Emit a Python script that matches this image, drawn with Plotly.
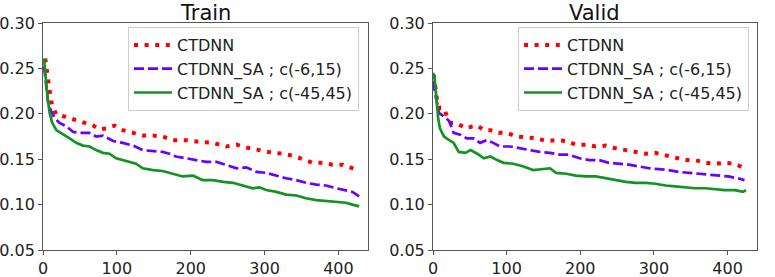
import plotly.graph_objects as go

# ---- Train data ----
train_ctdnn_x = [3, 4.5, 8, 11, 13.5, 18, 25, 36, 50, 59, 68, 77, 86, 97, 108, 122, 135, 149, 162, 176, 194, 212, 230, 248, 262, 275, 293, 311, 325, 338, 352, 365, 379, 392, 406, 419, 426]
train_ctdnn_y = [0.261, 0.252, 0.226, 0.214, 0.208, 0.199, 0.198, 0.195, 0.192, 0.189, 0.187, 0.183, 0.184, 0.187, 0.182, 0.179, 0.176, 0.176, 0.175, 0.171, 0.171, 0.169, 0.168, 0.164, 0.166, 0.163, 0.160, 0.157, 0.156, 0.154, 0.150, 0.146, 0.146, 0.144, 0.144, 0.140, 0.138]

train_sa6_x = [0, 2, 4.5, 7, 11, 16, 22.5, 32, 41, 50, 63, 72, 81, 95, 108, 122, 135, 149, 162, 171, 180, 194, 207, 221, 235, 248, 262, 275, 289, 302, 316, 329, 343, 356, 370, 383, 397, 410, 419, 428]
train_sa6_y = [0.252, 0.248, 0.230, 0.212, 0.203, 0.195, 0.190, 0.186, 0.180, 0.179, 0.179, 0.175, 0.176, 0.170, 0.168, 0.165, 0.160, 0.159, 0.158, 0.156, 0.153, 0.151, 0.149, 0.147, 0.147, 0.144, 0.140, 0.141, 0.136, 0.135, 0.132, 0.129, 0.127, 0.124, 0.122, 0.121, 0.118, 0.116, 0.114, 0.109]

train_sa45_x = [1.4, 3.6, 6, 9, 12.6, 18, 27, 36, 45, 54, 63, 72, 81, 90, 99, 108, 117, 126, 135, 149, 162, 176, 189, 203, 216, 230, 244, 257, 271, 284, 293, 302, 316, 329, 343, 356, 370, 383, 397, 410, 419, 428]
train_sa45_y = [0.261, 0.241, 0.219, 0.201, 0.190, 0.182, 0.177, 0.173, 0.168, 0.165, 0.164, 0.160, 0.157, 0.156, 0.151, 0.149, 0.147, 0.145, 0.140, 0.138, 0.137, 0.134, 0.131, 0.132, 0.127, 0.127, 0.125, 0.124, 0.121, 0.118, 0.119, 0.116, 0.114, 0.111, 0.110, 0.107, 0.105, 0.104, 0.103, 0.102, 0.100, 0.098]

# ---- Valid data ----
valid_ctdnn_x = [1, 3.6, 6, 9, 15, 19, 24, 30, 40, 46, 53, 60, 69, 78, 89, 100, 114, 127, 141, 154, 167, 181, 194, 208, 221, 235, 248, 262, 275, 289, 302, 316, 329, 343, 356, 370, 383, 396, 410, 419, 423]
valid_ctdnn_y = [0.243, 0.230, 0.212, 0.206, 0.206, 0.197, 0.190, 0.190, 0.186, 0.184, 0.186, 0.187, 0.182, 0.182, 0.179, 0.179, 0.175, 0.174, 0.173, 0.170, 0.171, 0.170, 0.166, 0.166, 0.164, 0.165, 0.162, 0.160, 0.158, 0.156, 0.157, 0.154, 0.151, 0.149, 0.149, 0.146, 0.145, 0.146, 0.145, 0.142, 0.140]

valid_sa6_x = [0, 3.6, 8, 15, 22, 28, 37, 46, 55, 64, 73, 82, 91, 105, 118, 132, 145, 159, 172, 185, 199, 212, 226, 239, 253, 266, 280, 293, 307, 320, 334, 347, 361, 374, 388, 401, 414, 423]
valid_sa6_y = [0.236, 0.219, 0.201, 0.197, 0.192, 0.179, 0.177, 0.173, 0.173, 0.168, 0.171, 0.168, 0.164, 0.164, 0.162, 0.160, 0.158, 0.157, 0.155, 0.155, 0.151, 0.149, 0.149, 0.146, 0.145, 0.144, 0.142, 0.140, 0.139, 0.138, 0.136, 0.135, 0.134, 0.133, 0.132, 0.131, 0.129, 0.127]

valid_sa45_x = [0, 2, 4.5, 7, 9.4, 15, 22, 28, 35, 44, 51, 60, 69, 78, 87, 96, 109, 123, 136, 150, 159, 167, 181, 194, 208, 221, 235, 248, 262, 275, 289, 302, 316, 329, 343, 356, 370, 383, 396, 410, 421, 425]
valid_sa45_y = [0.245, 0.241, 0.219, 0.195, 0.184, 0.175, 0.171, 0.168, 0.158, 0.157, 0.160, 0.156, 0.151, 0.153, 0.149, 0.146, 0.145, 0.142, 0.138, 0.139, 0.140, 0.135, 0.134, 0.132, 0.131, 0.131, 0.129, 0.127, 0.125, 0.124, 0.124, 0.123, 0.121, 0.120, 0.119, 0.118, 0.118, 0.117, 0.116, 0.116, 0.114, 0.116]

labels = ["CTDNN", "CTDNN_SA ; c(-6,15)", "CTDNN_SA ; c(-45,45)"]
titles = ["Train", "Valid"]
x_ticks = [0, 100, 200, 300, 400]
y_ticks = [0.05, 0.10, 0.15, 0.20, 0.25, 0.30]

RED = "#ff0000"
PURPLE = "#6a00ff"
GREEN = "#129322"
FONT = "DejaVu Sans"

styles = [
    dict(color=RED, width=4, dash="4px,6.6px"),
    dict(color=PURPLE, width=2.7, dash="10px,4px"),
    dict(color=GREEN, width=2.7, dash="solid"),
]

fig = go.Figure()

panels = [
    ("x", "y", "legend", [(train_ctdnn_x, train_ctdnn_y), (train_sa6_x, train_sa6_y), (train_sa45_x, train_sa45_y)]),
    ("x2", "y2", "legend2", [(valid_ctdnn_x, valid_ctdnn_y), (valid_sa6_x, valid_sa6_y), (valid_sa45_x, valid_sa45_y)]),
]

for xa, ya, lg, series in panels:
    for (xs, ys), lab, st in zip(series, labels, styles):
        fig.add_trace(go.Scatter(
            x=xs, y=ys, mode="lines", name=lab, xaxis=xa, yaxis=ya,
            legend=lg, line=st, showlegend=True,
        ))

W, H = 775, 277
ML, MR, MT, MB = 43, 18, 23, 27
PW = W - ML - MR
PH = H - MT - MB
dom_x1 = [0, (368 - ML) / PW]
dom_x2 = [(433 - ML) / PW, 1]


def px_x(px):
    return (px - ML) / PW


def px_y(py):
    return (H - MB - py) / PH


axis_common = dict(
    showline=True, mirror=True, linecolor="#555555", linewidth=1,
    ticks="outside", ticklen=4, tickcolor="#555555", showgrid=False, zeroline=False,
    automargin=False,
    tickfont=dict(family=FONT, size=16, color="#222222"),
)

legend_common = dict(
    xanchor="left", yanchor="top",
    bgcolor="white", bordercolor="#cccccc", borderwidth=1,
    font=dict(family=FONT, size=16, color="#222222"), itemwidth=38,
    tracegroupgap=0, xref="paper", yref="paper",
)

fig.update_layout(
    width=W, height=H,
    margin=dict(l=ML, r=MR, t=MT, b=MB, autoexpand=False),
    paper_bgcolor="white", plot_bgcolor="white",
    font=dict(family=FONT, size=16, color="#222222"),
    xaxis=dict(domain=dom_x1, range=[0, 440], tickvals=x_ticks, anchor="y", **axis_common),
    yaxis=dict(domain=[0, 1], range=[0.05, 0.30], tickvals=y_ticks, tickformat=".2f", anchor="x", **axis_common),
    xaxis2=dict(domain=dom_x2, range=[0, 440], tickvals=x_ticks, anchor="y2", **axis_common),
    yaxis2=dict(domain=[0, 1], range=[0.05, 0.30], tickvals=y_ticks, tickformat=".2f", anchor="x2", **axis_common),
    legend=dict(x=px_x(128), y=px_y(27), **legend_common),
    legend2=dict(x=px_x(518), y=px_y(27), **legend_common),
    annotations=[
        dict(text=titles[0], x=(dom_x1[0] + dom_x1[1]) / 2, y=px_y(13), xref="paper", yref="paper",
             showarrow=False, font=dict(family=FONT, size=21, color="#111111"), xanchor="center", yanchor="middle"),
        dict(text=titles[1], x=(dom_x2[0] + dom_x2[1]) / 2, y=px_y(13), xref="paper", yref="paper",
             showarrow=False, font=dict(family=FONT, size=21, color="#111111"), xanchor="center", yanchor="middle"),
    ],
)

fig.write_html("out.html", config={"displayModeBar": False},
               post_script="document.body.style.margin='0';document.body.style.padding='0';")
